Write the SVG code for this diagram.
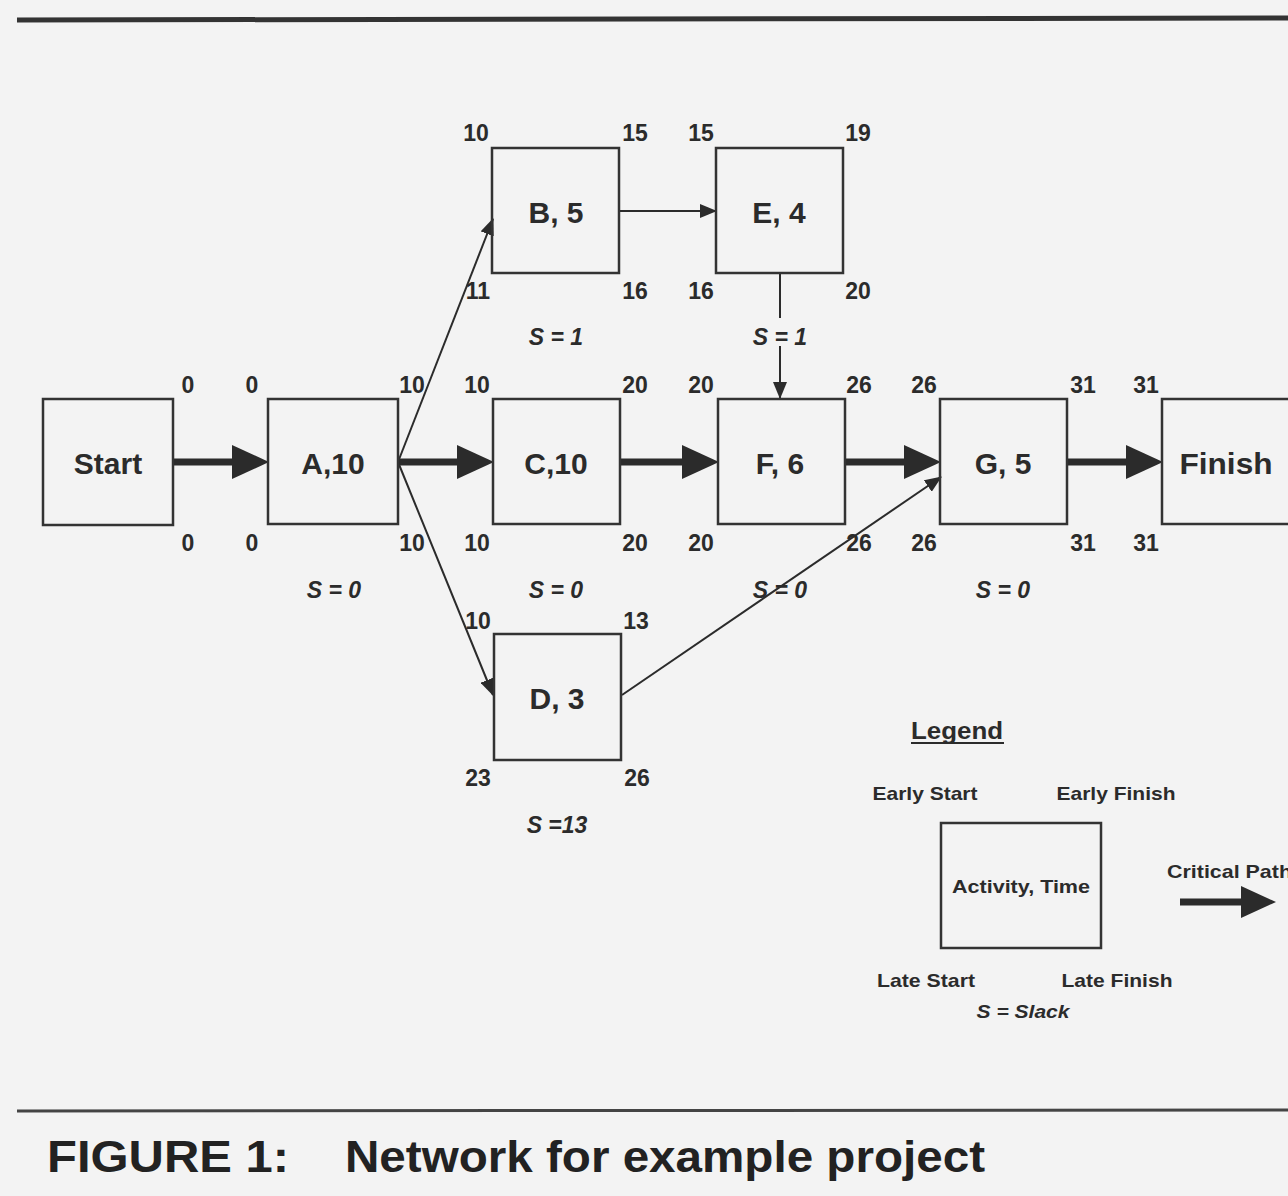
<svg xmlns="http://www.w3.org/2000/svg" width="1288" height="1196" viewBox="0 0 1288 1196">
  <defs>
    <marker id="thick" markerUnits="userSpaceOnUse" markerWidth="38" markerHeight="34" refX="0" refY="17" orient="auto">
      <path d="M0,0 L37,17 L0,34 z" fill="#2b2b2b"/>
    </marker>
    <marker id="thin" markerUnits="userSpaceOnUse" markerWidth="18" markerHeight="14" refX="16" refY="7" orient="auto">
      <path d="M0,0 L17,7 L0,14 z" fill="#2b2b2b"/>
    </marker>
  </defs>
  <style>
    .box { fill: none; stroke: #333; stroke-width: 2.5; }
    .lbl { font-family: "Liberation Sans", Arial, sans-serif; font-weight: bold; font-size: 30px; fill: #2b2b2b; text-anchor: middle; }
    .num { font-family: "Liberation Sans", Arial, sans-serif; font-weight: bold; font-size: 23px; fill: #2b2b2b; text-anchor: middle; }
    .slk { font-family: "Liberation Sans", Arial, sans-serif; font-weight: bold; font-style: italic; font-size: 23px; fill: #2b2b2b; text-anchor: middle; }
    .leg { font-family: "Liberation Sans", Arial, sans-serif; font-weight: bold; font-size: 19px; fill: #2b2b2b; text-anchor: middle; }
    .crit { stroke: #2b2b2b; stroke-width: 7; fill: none; marker-end: url(#thick); }
    .conn { stroke: #2b2b2b; stroke-width: 2; fill: none; }
    .arr { marker-end: url(#thin); }
    .cap { font-family: "Liberation Sans", Arial, sans-serif; font-weight: bold; font-size: 44px; fill: #222; }
  </style>
  <rect x="0" y="0" width="1288" height="1196" fill="#f3f3f3"/>
  <line x1="17" y1="20" x2="1288" y2="18" stroke="#333" stroke-width="5"/>
  <line x1="17" y1="1111" x2="1288" y2="1110" stroke="#444" stroke-width="3"/>

  <g id="connectors">
    <line class="crit" x1="173" y1="462" x2="232" y2="462"/>
    <line class="crit" x1="398" y1="462" x2="457" y2="462"/>
    <line class="crit" x1="620" y1="462" x2="682" y2="462"/>
    <line class="crit" x1="845" y1="462" x2="904" y2="462"/>
    <line class="crit" x1="1067" y1="462" x2="1126" y2="462"/>
    <line class="conn arr" x1="398" y1="462" x2="493" y2="219"/>
    <line class="conn arr" x1="398" y1="462" x2="493" y2="695"/>
    <line class="conn arr" x1="620" y1="211" x2="716" y2="211"/>
    <line class="conn" x1="780" y1="273" x2="780" y2="318"/>
    <line class="conn arr" x1="780" y1="346" x2="780" y2="398"/>
    <line class="conn arr" x1="622" y1="695" x2="941" y2="477"/>
  </g>

  <g id="node-start">
    <rect class="box" x="43" y="399" width="130" height="126"/>
    <text class="lbl" x="108" y="474">Start</text>
    <text class="num" x="188" y="393">0</text>
    <text class="num" x="188" y="551">0</text>
  </g>
  <g id="node-a">
    <rect class="box" x="268" y="399" width="130" height="125"/>
    <text class="lbl" x="333" y="474">A,10</text>
    <text class="num" x="252" y="393">0</text>
    <text class="num" x="252" y="551">0</text>
    <text class="num" x="412" y="393">10</text>
    <text class="num" x="412" y="551">10</text>
    <text class="slk" x="334" y="598">S = 0</text>
  </g>
  <g id="node-b">
    <rect class="box" x="492" y="148" width="127" height="125"/>
    <text class="lbl" x="556" y="223">B, 5</text>
    <text class="num" x="476" y="141">10</text>
    <text class="num" x="635" y="141">15</text>
    <text class="num" x="478" y="299">11</text>
    <text class="num" x="635" y="299">16</text>
    <text class="slk" x="556" y="345">S = 1</text>
  </g>
  <g id="node-e">
    <rect class="box" x="716" y="148" width="127" height="125"/>
    <text class="lbl" x="779" y="223">E, 4</text>
    <text class="num" x="701" y="141">15</text>
    <text class="num" x="858" y="141">19</text>
    <text class="num" x="701" y="299">16</text>
    <text class="num" x="858" y="299">20</text>
    <text class="slk" x="780" y="345">S = 1</text>
  </g>
  <g id="node-c">
    <rect class="box" x="493" y="399" width="127" height="125"/>
    <text class="lbl" x="556" y="474">C,10</text>
    <text class="num" x="477" y="393">10</text>
    <text class="num" x="477" y="551">10</text>
    <text class="num" x="635" y="393">20</text>
    <text class="num" x="635" y="551">20</text>
    <text class="slk" x="556" y="598">S = 0</text>
  </g>
  <g id="node-d">
    <rect class="box" x="494" y="634" width="127" height="126"/>
    <text class="lbl" x="557" y="709">D, 3</text>
    <text class="num" x="478" y="629">10</text>
    <text class="num" x="636" y="629">13</text>
    <text class="num" x="478" y="786">23</text>
    <text class="num" x="637" y="786">26</text>
    <text class="slk" x="557" y="833">S =13</text>
  </g>
  <g id="node-f">
    <rect class="box" x="718" y="399" width="127" height="125"/>
    <text class="lbl" x="780" y="474">F, 6</text>
    <text class="num" x="701" y="393">20</text>
    <text class="num" x="701" y="551">20</text>
    <text class="num" x="859" y="393">26</text>
    <text class="num" x="859" y="551">26</text>
    <text class="slk" x="780" y="598">S = 0</text>
  </g>
  <g id="node-g">
    <rect class="box" x="940" y="399" width="127" height="125"/>
    <text class="lbl" x="1003" y="474">G, 5</text>
    <text class="num" x="924" y="393">26</text>
    <text class="num" x="924" y="551">26</text>
    <text class="num" x="1083" y="393">31</text>
    <text class="num" x="1083" y="551">31</text>
    <text class="slk" x="1003" y="598">S = 0</text>
  </g>
  <g id="node-finish">
    <rect class="box" x="1162" y="399" width="140" height="125"/>
    <text class="lbl" x="1226" y="474" textLength="93" lengthAdjust="spacingAndGlyphs">Finish</text>
    <text class="num" x="1146" y="393">31</text>
    <text class="num" x="1146" y="551">31</text>
  </g>

  <g id="legend">
    <text class="lbl" x="957" y="739" style="font-size:24px" textLength="92" lengthAdjust="spacingAndGlyphs">Legend</text>
    <line x1="911" y1="743" x2="1004" y2="743" stroke="#2b2b2b" stroke-width="2"/>
    <text class="leg" x="925" y="800" textLength="105" lengthAdjust="spacingAndGlyphs">Early Start</text>
    <text class="leg" x="1116" y="800" textLength="119" lengthAdjust="spacingAndGlyphs">Early Finish</text>
    <rect class="box" x="941" y="823" width="160" height="125"/>
    <text class="leg" x="1021" y="893" textLength="138" lengthAdjust="spacingAndGlyphs">Activity, Time</text>
    <text class="leg" x="926" y="987" textLength="98" lengthAdjust="spacingAndGlyphs">Late Start</text>
    <text class="leg" x="1117" y="987" textLength="111" lengthAdjust="spacingAndGlyphs">Late Finish</text>
    <text class="slk" x="1023" y="1018" style="font-size:19px" textLength="93" lengthAdjust="spacingAndGlyphs">S = Slack</text>
    <text class="leg" x="1167" y="878" style="text-anchor:start" textLength="125" lengthAdjust="spacingAndGlyphs">Critical Path</text>
    <line x1="1180" y1="902" x2="1243" y2="902" stroke="#2b2b2b" stroke-width="7"/>
    <path d="M1241,886 L1276,902 L1241,918 z" fill="#2b2b2b"/>
  </g>

  <g id="caption">
    <text class="cap" x="47" y="1172" textLength="242" lengthAdjust="spacingAndGlyphs">FIGURE 1:</text>
    <text class="cap" x="345" y="1172" textLength="640" lengthAdjust="spacingAndGlyphs">Network for example project</text>
  </g>
</svg>
